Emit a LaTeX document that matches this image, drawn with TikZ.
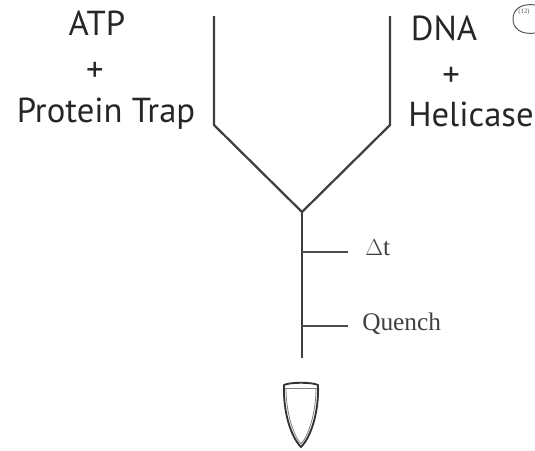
\documentclass[tikz,border=0pt]{standalone}
\usepackage{fontspec}
\setmainfont{Liberation Serif}
\newfontfamily\labelsans{PT Sans}
\tikzset{
  px/.style={x=0.75pt,y=-0.75pt},
  tube/.style={draw=black!75,line width=1.7pt,line join=round},
  tick/.style={draw=black!70,line width=1.6pt},
  big/.style={font=\labelsans\fontsize{26}{28}\selectfont,text=black!85,inner sep=0pt,anchor=base},
  small/.style={font=\fontsize{19}{21}\selectfont,text=black!75,inner sep=0pt,anchor=base west},
}
\begin{document}
\begin{tikzpicture}[px]
\useasboundingbox (0,0) rectangle (535,450);
\coordinate (la) at (214,16);
\coordinate (lb) at (214,125);
\coordinate (ra) at (390,16);
\coordinate (rb) at (390,125);
\coordinate (j) at (302,212);
\coordinate (e) at (302,358);
\coordinate (t1) at (302,252);
\coordinate (t2) at (302,326);
\coordinate (t1e) at (348,252);
\coordinate (t2e) at (348,326);
\draw[tube] (la) -- (lb) -- (j) -- (rb) -- (ra);
\draw[tube] (j) -- (e);
\draw[tick] (t1) -- (t1e);
\draw[tick] (t2) -- (t2e);
\node[big] (atp) at (97,35) {ATP};
\node[big] (plus1) at (95,81) {+};
\node[big] (pt) at (106,122) {Protein Trap};
\node[big] (dna) at (444,40) {DNA};
\node[big] (plus2) at (451,86) {+};
\node[big] (hel) at (471,126) {Helicase};
\node[small] (dt) at (365,255) {$\Delta$t};
\node[small] (q) at (362,330) {Quench};
\draw[draw=black!70,line width=0.7pt] (535,5) .. controls (520,3) and (513,10) .. (513,19) .. controls (513,28) and (520,35) .. (535,33);
\node[font=\fontsize{5}{6}\selectfont,text=black!70,inner sep=0pt] (num) at (524,12) {(12)};
\draw[draw=black!80,line width=1.4pt,line join=round] (284,385) .. controls (283,412) and (291,437) .. (301,447) .. controls (311,437) and (319,412) .. (318,385) .. controls (312,382) and (290,382) .. (284,385) -- cycle;
\draw[draw=black!50,line width=0.6pt] (286,388) .. controls (286,412) and (293,435) .. (301,444) .. controls (309,435) and (316,412) .. (316,388);
\draw[draw=black!50,line width=0.7pt] (285,388) -- (317,388);
\end{tikzpicture}
\end{document}
